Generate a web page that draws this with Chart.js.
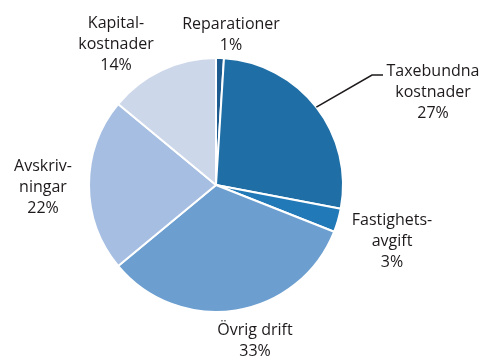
<!DOCTYPE html>
<html>
<head>
<meta charset="utf-8">
<script src="https://cdn.jsdelivr.net/npm/chart.js@4/dist/chart.umd.min.js"></script>
<style>
  html, body { margin: 0; padding: 0; background: #fff; }
  #wrap { position: relative; width: 481px; height: 358px; }
</style>
</head>
<body>
<div id="wrap"><canvas id="chart"></canvas></div>
<script>
const categories = ["Reparationer", "Taxebundna kostnader", "Fastighetsavgift", "Övrig drift", "Avskrivningar", "Kapitalkostnader"];
const labelLines = [["Reparationer"], ["Taxebundna", "kostnader"], ["Fastighets-", "avgift"], ["Övrig drift"], ["Avskriv-", "ningar"], ["Kapital-", "kostnader"]];
const shares = [1, 27, 3, 33, 22, 14];
const colors = ["#1b5b8f", "#1f6fa6", "#2279b8", "#6c9fd0", "#a5bee2", "#cdd7ea"];

// where each text block sits, relative to the pie centre (first line centre)
const labelPlace = [
  { dx: 15, dy: -161 },
  { dx: 217, dy: -114 },
  { dx: 176, dy: 35 },
  { dx: 39, dy: 145 },
  { dx: -173, dy: -19 },
  { dx: -100, dy: -162 }
];
const lineHeight = 21;

const labelPlugin = {
  id: "pieLabels",
  afterDraw(chart) {
    const ctx = chart.ctx;
    const arcs = chart.getDatasetMeta(0).data;
    const cx = arcs[0].x, cy = arcs[0].y;
    ctx.save();
    ctx.font = "16px 'Open Sans'";
    ctx.fillStyle = "#1e1a1b";
    ctx.textAlign = "center";
    ctx.textBaseline = "middle";
    labelLines.forEach((lines, i) => {
      const p = labelPlace[i];
      const all = lines.concat([shares[i] + "%"]);
      all.forEach((t, k) => {
        ctx.fillText(t, cx + p.dx, cy + p.dy + k * lineHeight);
      });
    });
    // leader line for Taxebundna kostnader
    const a = arcs[1];
    const mid = (a.startAngle + a.endAngle) / 2;
    ctx.strokeStyle = "#1e1a1b";
    ctx.lineWidth = 1.6;
    ctx.beginPath();
    ctx.moveTo(cx + Math.cos(mid) * a.outerRadius, cy + Math.sin(mid) * a.outerRadius);
    ctx.lineTo(cx + 156, cy - 110);
    ctx.lineTo(cx + 167, cy - 110);
    ctx.stroke();
    ctx.restore();
  }
};

new Chart(document.getElementById("chart"), {
  type: "pie",
  data: {
    labels: categories,
    datasets: [{
      data: shares,
      backgroundColor: colors,
      borderColor: "#ffffff",
      borderWidth: 2
    }]
  },
  options: {
    responsive: true,
    maintainAspectRatio: false,
    animation: false,
    layout: { padding: { left: 88, right: 137, top: 57, bottom: 45 } },
    plugins: {
      legend: { display: false },
      tooltip: { enabled: false }
    }
  },
  plugins: [labelPlugin]
});
</script>
</body>
</html>
